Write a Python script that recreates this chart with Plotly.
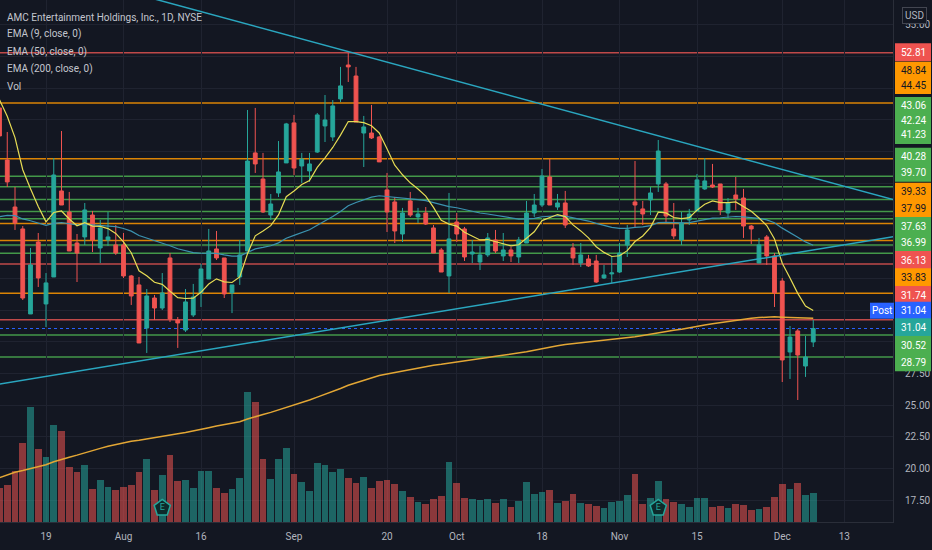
import numpy as np
import pandas as pd
import plotly.graph_objects as go

# region Data
holidays = ["2021-09-06", "2021-11-25"]
days = [d.strftime("%Y-%m-%d") for d in pd.bdate_range("2021-07-09", "2021-12-31")
        if d.strftime("%Y-%m-%d") not in holidays]

opens = [48.45, 44.34, 40.63, 38.90, 32.19, 37.87, 32.98, 35.11, 41.90, 40.24,
         37.79, 38.27, 40.00, 37.40, 38.03, 37.64, 37.64, 35.19, 34.48, 31.08,
         33.45, 32.66, 36.61, 31.71, 30.92, 32.11, 33.85, 34.95, 37.32, 36.61,
         33.85, 35.11, 37.16, 44.90, 42.84, 40.00, 41.74, 44.11, 47.27, 43.87,
         43.48, 44.97, 47.03, 46.16, 49.16, 51.84, 50.97, 46.47, 46.47, 46.16,
         41.98, 41.03, 38.50, 41.11, 39.85, 40.16, 38.98, 37.24, 35.19, 39.45,
         38.90, 36.92, 36.29, 36.85, 38.03, 36.77, 37.24, 36.69, 37.79, 40.16,
         40.79, 43.00, 40.63, 40.95, 37.40, 36.21, 36.53, 36.37, 35.03, 35.35,
         35.50, 37.63, 41.03, 40.48, 41.19, 42.45, 42.45, 38.90, 38.03, 39.61,
         40.32, 42.06, 42.37, 42.45, 40.16, 41.58, 41.34, 39.13, 36.21, 38.27,
         36.77, 34.79, 29.19, 30.85, 28.08, 29.98]
highs = [49.08, 46.55, 42.21, 39.13, 37.40, 38.58, 35.42, 44.50, 46.63, 41.82,
         38.50, 40.95, 40.32, 39.61, 40.24, 39.21, 38.58, 35.27, 35.11, 34.16,
         33.69, 35.42, 37.00, 31.95, 34.16, 34.56, 36.14, 38.90, 38.74, 36.61,
         34.48, 38.03, 48.29, 48.45, 44.90, 41.66, 45.84, 47.27, 47.90, 44.90,
         44.90, 48.05, 49.47, 49.08, 51.69, 52.81, 51.69, 47.82, 48.69, 46.24,
         43.32, 41.42, 40.56, 41.82, 40.56, 40.63, 39.21, 37.40, 41.74, 40.16,
         39.06, 38.03, 37.56, 38.58, 38.82, 38.58, 37.48, 38.27, 41.11, 41.66,
         43.63, 44.42, 41.66, 41.90, 37.79, 37.79, 36.85, 36.85, 36.06, 36.69,
         37.79, 39.21, 44.26, 41.11, 42.21, 45.92, 42.61, 40.95, 40.24, 40.48,
         43.24, 44.50, 44.03, 42.45, 41.34, 43.00, 42.06, 39.21, 38.19, 38.42,
         37.00, 35.03, 31.24, 31.00, 30.45, 31.71]
lows = [45.92, 42.21, 38.82, 33.29, 32.19, 34.32, 31.16, 35.11, 40.79, 37.16,
        34.71, 37.63, 37.08, 36.21, 37.56, 36.85, 35.03, 32.90, 29.90, 29.11,
        31.71, 32.50, 31.56, 29.51, 30.77, 31.95, 32.74, 34.95, 36.45, 33.45,
        32.26, 34.48, 37.16, 43.32, 40.16, 39.61, 41.42, 44.11, 43.16, 42.53,
        42.61, 44.90, 45.76, 45.84, 48.92, 50.50, 47.34, 43.79, 46.00, 44.19,
        38.66, 37.79, 37.87, 39.85, 39.37, 39.21, 37.00, 35.50, 33.85, 37.87,
        36.37, 36.21, 35.66, 36.69, 37.00, 36.37, 36.29, 36.21, 37.79, 39.85,
        40.63, 40.79, 40.40, 38.98, 36.06, 35.90, 35.90, 34.64, 34.95, 34.64,
        35.43, 36.69, 38.98, 39.21, 40.00, 41.82, 39.45, 38.11, 37.63, 39.21,
        40.24, 41.98, 42.13, 40.00, 39.77, 40.40, 38.19, 37.71, 36.21, 36.06,
        32.74, 26.82, 27.06, 25.40, 27.22, 29.58]
closes = [46.24, 42.61, 39.37, 33.45, 36.06, 35.03, 34.64, 43.16, 40.79, 37.16,
          37.00, 40.40, 38.03, 38.98, 38.27, 37.00, 35.19, 33.61, 29.90, 33.61,
          32.66, 33.85, 31.80, 31.48, 33.14, 33.53, 35.74, 37.16, 36.61, 33.77,
          34.48, 36.85, 44.26, 44.03, 40.24, 40.87, 43.40, 47.19, 43.71, 44.42,
          44.03, 47.90, 47.50, 48.61, 50.19, 51.69, 47.34, 46.95, 46.08, 44.19,
          40.24, 38.74, 40.16, 40.00, 40.08, 39.29, 37.00, 35.50, 38.11, 38.50,
          36.69, 37.08, 36.85, 38.19, 37.16, 37.24, 36.77, 38.03, 40.16, 40.79,
          43.08, 40.79, 40.95, 39.21, 36.61, 36.85, 35.98, 34.71, 35.27, 35.43,
          37.00, 38.82, 40.79, 40.08, 41.74, 45.05, 39.92, 38.35, 39.37, 40.08,
          42.77, 42.69, 42.21, 40.40, 40.95, 41.27, 39.13, 38.90, 37.64, 36.77,
          33.85, 28.56, 30.37, 28.95, 28.79, 31.04]
volume_m = [33.7, 36.7, 50.7, 79.3, 114.7, 73.0, 64.7, 96.7, 91.3, 54.7,
            50.0, 56.7, 32.7, 42.0, 34.7, 32.0, 34.7, 36.7, 50.0, 62.7,
            32.0, 46.7, 66.7, 40.7, 42.0, 34.0, 50.7, 50.7, 33.7, 28.7,
            32.7, 44.0, 130.3, 120.0, 62.7, 42.7, 62.7, 73.7, 47.7, 39.7,
            30.7, 58.7, 56.7, 49.7, 52.7, 43.7, 38.7, 44.7, 33.7, 40.7,
            42.0, 37.7, 30.7, 24.7, 19.7, 18.3, 23.3, 25.7, 60.0, 38.7,
            23.7, 22.7, 22.0, 22.7, 18.7, 22.7, 15.3, 20.7, 40.0, 27.7,
            29.7, 32.0, 18.7, 20.7, 27.7, 18.7, 17.7, 16.3, 14.3, 19.7,
            20.7, 26.7, 48.0, 17.7, 23.7, 40.7, 22.7, 19.7, 18.3, 14.7,
            23.7, 23.7, 14.7, 15.7, 13.7, 17.7, 16.7, 11.7, 12.7, 14.7,
            24.7, 37.7, 32.7, 38.7, 26.7, 28.7]

# EMA value just before the first visible bar
ema_seeds = {9: 49.8, 50: 39.6, 200: 19.0}

tick_dates = ["2021-07-19", "2021-08-02", "2021-08-16", "2021-09-01", "2021-09-20",
              "2021-10-01", "2021-10-18", "2021-11-01", "2021-11-15", "2021-12-01",
              "2021-12-13"]
tick_text = ["19", "Aug", "16", "Sep", "20", "Oct", "18", "Nov", "15", "Dec", "13"]
# price ticks that are not covered by the level labels
price_ticks = [17.5, 20.0, 22.5, 25.0, 27.5, 55.0]

levels = [52.81, 48.84, 44.45, 43.06, 42.24, 41.23, 40.28, 39.70, 39.33, 37.99,
          37.63, 36.99, 36.13, 33.83, 31.74, 30.52, 28.79]
level_kinds = ["r", "o", "o", "g", "g", "g", "g", "g", "o", "o",
               "g", "g", "r", "o", "r", "g", "g"]
post_price = 31.04

upper_trend_dates = ["2021-07-30", "2021-12-22"]
upper_trend_prices = [57.88, 41.10]
lower_trend_dates = ["2021-07-09", "2021-12-22"]
lower_trend_prices = [26.65, 38.35]

earnings_dates = ["2021-08-09", "2021-11-08"]
# endregion

BG = "#131722"
UP = "#26a69a"
DOWN = "#ef5350"
TXT = "#b2b5be"
GRID = "#1f2330"
FONT = "Roboto, sans-serif"
PLOT_W, PLOT_H = 893, 522

pos = {d: i for i, d in enumerate(days)}
x = np.arange(len(closes))


def ema(values, period, seed):
    a = 2.0 / (period + 1)
    out, e = [], seed
    for v in values:
        e = e + a * (v - e)
        out.append(e)
    return out


def px_box(x0, x1, ymid, h, color):
    # rectangle given in pixels of the plot area, drawn in paper coords
    fig.add_shape(type="rect", xref="paper", yref="paper", x0=x0 / PLOT_W, x1=x1 / PLOT_W,
                  y0=1 - (ymid + h / 2) / PLOT_H, y1=1 - (ymid - h / 2) / PLOT_H,
                  fillcolor=color, line_width=0, layer="above")


fig = go.Figure()

# Volume (base axis, drawn underneath)
vol_colors = ["rgba(38,166,154,0.55)" if c >= o else "rgba(239,83,80,0.55)"
              for o, c in zip(opens, closes)]
fig.add_trace(go.Bar(x=x, y=volume_m, marker_color=vol_colors, marker_line_width=0,
                     width=0.86, yaxis="y", hoverinfo="skip"))

# Earnings badges
fig.add_trace(go.Scatter(
    x=[pos[d] for d in earnings_dates], y=[14, 14], yaxis="y",
    mode="markers+text", text=["E", "E"], textposition="middle center",
    textfont=dict(size=9, color=UP, family=FONT),
    marker=dict(symbol="pentagon", size=17, color="#0d2a2b", line=dict(color=UP, width=1.5)),
    hoverinfo="skip"))

# Candles
fig.add_trace(go.Candlestick(
    x=x, open=opens, high=highs, low=lows, close=closes, yaxis="y2",
    increasing=dict(line=dict(color=UP, width=1), fillcolor=UP),
    decreasing=dict(line=dict(color=DOWN, width=1), fillcolor=DOWN),
    whiskerwidth=0, hoverinfo="skip"))

# EMAs
for period, color, w in [(200, "#e3a735", 1.5), (50, "#3b93b0", 1.2), (9, "#e6dc54", 1.2)]:
    fig.add_trace(go.Scatter(x=x, y=ema(closes, period, ema_seeds[period]), yaxis="y2",
                             mode="lines", line=dict(color=color, width=w), hoverinfo="skip"))

# Trend lines
for dts, prs in [(upper_trend_dates, upper_trend_prices), (lower_trend_dates, lower_trend_prices)]:
    fig.add_trace(go.Scatter(x=[pos[d] for d in dts], y=prs, yaxis="y2", mode="lines",
                             line=dict(color="#2aa6bf", width=1.5), hoverinfo="skip"))

# Horizontal levels
line_col = {"r": "rgba(222,82,80,0.85)", "o": "rgba(255,152,0,0.85)", "g": "rgba(76,175,80,0.85)"}
box_col = {"r": DOWN, "o": "#ff9800", "g": "#4caf50"}
txt_col = {"r": "#ffffff", "o": "#131722", "g": "#ffffff"}
for p, k in zip(levels, level_kinds):
    fig.add_shape(type="line", xref="paper", x0=0, x1=1, yref="y2", y0=p, y1=p,
                  line=dict(color=line_col[k], width=1.5), layer="below")
fig.add_shape(type="line", xref="paper", x0=0, x1=1, yref="y2", y0=post_price, y1=post_price,
              line=dict(color="#2962ff", width=1, dash="dot"), layer="below")

# Price labels on the scale (stacked like the original)
label_slots = [52.3, 70.7, 85, 106, 120.7, 135, 156.7, 172.7, 191.7, 208.3,
               226, 242.7, 260, 277.3, 295, 310.7, 327.3, 345, 362.3]
labels = [(f"{p:.2f}", box_col[k], txt_col[k]) for p, k in zip(levels[:15], level_kinds[:15])]
labels += [(f"{post_price:.2f}", "#2962ff", "#ffffff"), (f"{closes[-1]:.2f}", UP, "#ffffff")]
labels += [(f"{p:.2f}", box_col[k], txt_col[k]) for p, k in zip(levels[15:], level_kinds[15:])]
for (t, bg, fg), slot in zip(labels, label_slots):
    px_box(895, 931, slot, 18, bg)
for (t, bg, fg), slot in zip(labels, label_slots):
    fig.add_annotation(xref="paper", yref="paper", x=913 / PLOT_W, y=1 - slot / PLOT_H,
                       xanchor="center", yanchor="middle", text=t, showarrow=False,
                       borderpad=0, font=dict(size=10, color=fg, family=FONT))
px_box(870, 894, 310.7, 16, "#2962ff")
fig.add_annotation(xref="paper", yref="paper", x=882 / PLOT_W, y=1 - 310.7 / PLOT_H,
                   xanchor="center", yanchor="middle", text="Post", showarrow=False,
                   borderpad=0, font=dict(size=10, color="#ffffff", family=FONT))
fig.add_annotation(xref="paper", yref="paper", x=914 / PLOT_W, y=1 - 15 / PLOT_H,
                   xanchor="center", yanchor="middle", text="USD", showarrow=False,
                   bgcolor=BG, bordercolor="#434651", borderwidth=1, borderpad=2,
                   font=dict(size=10, color=TXT, family=FONT))

# Legend text, top left
legend_lines = ["AMC Entertainment Holdings, Inc., 1D, NYSE", "EMA (9, close, 0)",
                "EMA (50, close, 0)", "EMA (200, close, 0)", "Vol"]
for i, t in enumerate(legend_lines):
    fig.add_annotation(xref="paper", yref="paper", x=5 / PLOT_W, y=1 - (17 + 17.3 * i) / PLOT_H,
                       xanchor="left", yanchor="middle", text=t, showarrow=False,
                       font=dict(size=10, color="#c3c6ce", family=FONT))

fig.update_layout(
    width=932, height=550,
    margin=dict(l=0, r=39, t=0, b=28),
    paper_bgcolor=BG, plot_bgcolor=BG,
    showlegend=False,
    xaxis=dict(range=[0.0645, 0.0645 + PLOT_W / 7.75], tickvals=[pos[d] for d in tick_dates],
               ticktext=tick_text, showgrid=True, gridcolor=GRID, zeroline=False,
               showline=True, linecolor="#2a2e39", ticks="", ticklabelstandoff=5,
               tickfont=dict(size=10, color=TXT, family=FONT), rangeslider=dict(visible=False)),
    yaxis=dict(range=[0, PLOT_H], visible=False, fixedrange=True),
    yaxis2=dict(range=[15.77, 56.97], overlaying="y", side="right", tickvals=price_ticks,
                tickformat=".2f", showgrid=True, gridcolor=GRID, zeroline=False,
                minor=dict(dtick=2.5, tick0=0, showgrid=True, gridcolor=GRID, ticks=""),
                showline=True, linecolor="#2a2e39", ticks="", ticklabelstandoff=9,
                tickfont=dict(size=10, color=TXT, family=FONT)),
    bargap=0,
)

fig.write_html("out.html", config={"displayModeBar": False},
               post_script="document.body.style.margin='0';")
